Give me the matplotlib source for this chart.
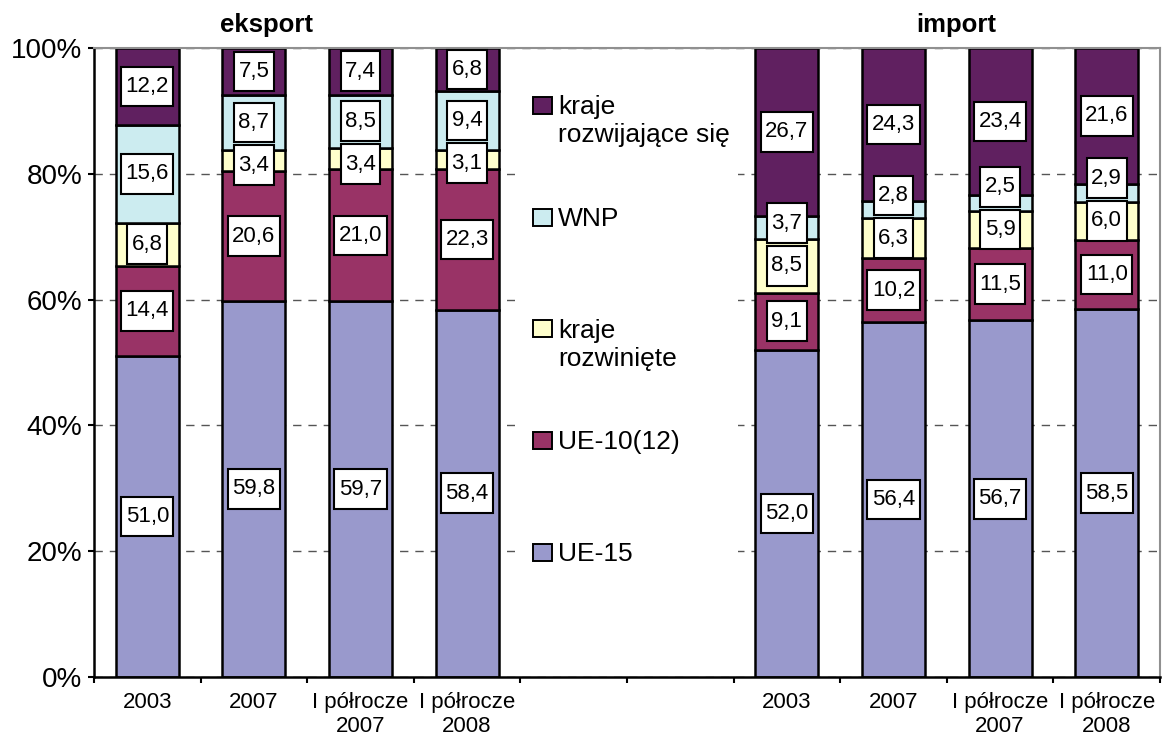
import numpy as np
import matplotlib
matplotlib.use("Agg")
import matplotlib.pyplot as plt
from matplotlib.patches import Rectangle
from matplotlib.path import Path

plt.rcParams['font.family'] = ['Liberation Sans', 'DejaVu Sans']

# udział grup krajów w eksporcie i imporcie (%)
periods = ["2003", "2007", "I półrocze\n2007", "I półrocze\n2008"]
groups = ["eksport", "import"]
series = ["UE-15", "UE-10(12)", "kraje\nrozwinięte", "WNP", "kraje\nrozwijające się"]

eks_ue15 = [51.0, 59.8, 59.7, 58.4]
eks_ue10 = [14.4, 20.6, 21.0, 22.3]
eks_rozwiniete = [6.8, 3.4, 3.4, 3.1]
eks_wnp = [15.6, 8.7, 8.5, 9.4]
eks_rozwijajace = [12.2, 7.5, 7.4, 6.8]

imp_ue15 = [52.0, 56.4, 56.7, 58.5]
imp_ue10 = [9.1, 10.2, 11.5, 11.0]
imp_rozwiniete = [8.5, 6.3, 5.9, 6.0]
imp_wnp = [3.7, 2.8, 2.5, 2.9]
imp_rozwijajace = [26.7, 24.3, 23.4, 21.6]

colors = ["#9999CC", "#993366", "#FFFFCC", "#CCECF0", "#602060"]

eksport = [eks_ue15, eks_ue10, eks_rozwiniete, eks_wnp, eks_rozwijajace]
imprt = [imp_ue15, imp_ue10, imp_rozwiniete, imp_wnp, imp_rozwijajace]

# eksport na pozycjach 0-3, import na 6-9 (4 i 5 puste - miejsce na legendę)
x_eks = np.arange(4)
x_imp = np.arange(6, 10)

fig = plt.figure(figsize=(11.62, 7.44), dpi=100)
ax = fig.add_axes([94 / 1162, 1 - 677 / 744, 1066 / 1162, 629 / 744])

bar_w = 0.59
label_gap = 6.8  # minimalny odstęp etykiet w %


def label_box(x0, y0, width, height, mutation_size):
    # prostokąt z większym marginesem w pionie niż w poziomie
    px = 0.2 * mutation_size
    py = 0.42 * mutation_size
    x0, y0 = x0 - px, y0 - py
    x1, y1 = x0 + width + 2 * px, y0 + height + 2 * py
    return Path([(x0, y0), (x1, y0), (x1, y1), (x0, y1), (x0, y0)],
                closed=True)


def draw_group(xs, data):
    bottom = np.zeros(len(xs))
    for vals, col in zip(data, colors):
        ax.bar(xs, vals, bar_w, bottom=bottom, color=col, edgecolor='black',
               linewidth=1.8, zorder=2)
        bottom = bottom + np.array(vals)
    # etykiety wartości - środek segmentu, mniejsza etykieta odsuwana przy kolizji
    for j, x in enumerate(xs):
        vals = [s[j] for s in data]
        starts = np.concatenate([[0], np.cumsum(vals)[:-1]])
        centers = list(starts + np.array(vals) / 2)
        for i in range(len(vals) - 1):
            if centers[i + 1] - centers[i] < label_gap:
                if vals[i] < vals[i + 1]:
                    centers[i] = centers[i + 1] - label_gap
                else:
                    centers[i + 1] = centers[i] + label_gap
        for v, c in zip(vals, centers):
            ax.text(x, c, f"{v:.1f}".replace(".", ","), ha='center', va='center',
                    fontsize=16, zorder=4,
                    bbox=dict(boxstyle=label_box, facecolor='white',
                              edgecolor='black', linewidth=1.5))


draw_group(x_eks, eksport)
draw_group(x_imp, imprt)

ax.set_xlim(-0.5, 9.5)
ax.set_ylim(0, 100)

# siatka pozioma
ax.set_axisbelow(True)
ax.yaxis.grid(True, linestyle=(0, (6, 5)), color='#555555', linewidth=1.0)

ax.set_yticks(np.arange(0, 101, 20))
ax.set_yticklabels([f"{v}%" for v in range(0, 101, 20)], fontsize=20)
ax.tick_params(axis='y', direction='out', length=4.5, width=1.5, pad=4)

ax.set_xticks(np.arange(-0.5, 10, 1))
ax.set_xticklabels([])
ax.tick_params(axis='x', which='major', direction='out', length=4.5, width=1.5)
ax.set_xticks(np.concatenate([x_eks, x_imp]), minor=True)
ax.set_xticklabels(periods + periods, minor=True, fontsize=16)
ax.tick_params(axis='x', which='minor', length=0, pad=11)

for side in ['left', 'bottom']:
    ax.spines[side].set_linewidth(1.8)
    ax.spines[side].set_color('black')
for side in ['top', 'right']:
    ax.spines[side].set_linewidth(1.5)
    ax.spines[side].set_color('#909090')

# tytuły grup
trans = ax.get_xaxis_transform()
ax.text(1.12, 1.036, groups[0], transform=trans, ha='center', va='center',
        fontsize=18.5, fontweight='bold')
ax.text(7.59, 1.036, groups[1], transform=trans, ha='center', va='center',
        fontsize=18.5, fontweight='bold')

# legenda w pustym miejscu między grupami
ax.add_patch(Rectangle((3.45, 0.16), 2.09, 0.78, transform=trans,
                       facecolor='white', edgecolor='none', zorder=1))
entry_y = 0.909
step = 0.1777
for k, (name, col) in enumerate(zip(series[::-1], colors[::-1])):
    y = entry_y - k * step
    ax.add_patch(Rectangle((3.62, y - 0.0135), 0.175, 0.027, transform=trans,
                           facecolor=col, edgecolor='black', linewidth=1.4,
                           zorder=3))
    ax.text(3.855, y + 0.016, name, transform=trans, ha='left', va='top',
            fontsize=19, linespacing=1.2, zorder=3)

fig.savefig("out.png", dpi=100)
